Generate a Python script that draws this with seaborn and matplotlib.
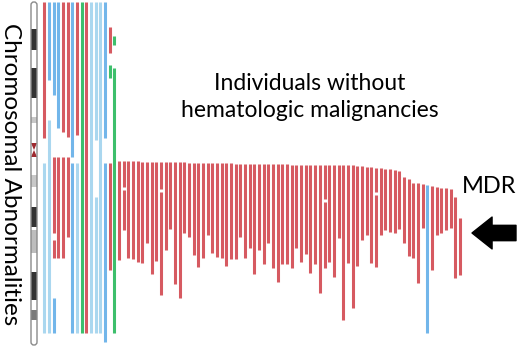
import numpy as np
import pandas as pd
import seaborn as sns
import matplotlib.pyplot as plt
from matplotlib.patches import FancyBboxPatch, Polygon

# left cluster: individuals with several abnormalities (column, start, end, type)
seg_col = [0, 0, 1, 1, 2, 2, 2, 2, 3, 3, 4, 4, 5, 5, 6, 6, 7, 7,
           8, 9, 10, 11, 11, 12, 13, 13, 14, 14, 14, 15, 15]
seg_start = [2, 163, 2, 120, 2, 157, 240, 298, 2, 157, 2, 157, 2, 157, 2, 163, 2, 163,
             2, 2, 2, 2, 197, 2, 2, 163, 27, 65, 163, 36, 68]
seg_end = [138, 333, 80, 333, 95, 233, 258, 333, 128, 258, 132, 258, 137, 237, 157, 333, 135, 333,
           333, 333, 333, 140, 333, 333, 138, 342, 53, 78, 270, 45, 333]
seg_type = ['loss', 'light', 'gain', 'light', 'gain', 'loss', 'loss', 'gain', 'gain', 'loss',
            'loss', 'loss', 'loss', 'loss', 'gain', 'gain', 'loss', 'light',
            'cnloh', 'loss', 'light', 'light', 'light', 'light', 'gain', 'gain',
            'loss', 'cnloh', 'loss', 'cnloh', 'cnloh']

# individuals without hematologic malignancies (columns 16..89)
del_top = [161, 161, 161, 161, 161,
           162, 162, 162, 162, 162, 162, 162, 162, 162, 162,
           163, 163, 163, 163, 163, 163, 163, 163, 163, 163,
           164, 164, 164, 164, 164, 164, 164, 164, 164, 164, 164, 164,
           165, 165, 165, 165, 165, 165, 165, 165, 165, 165, 165, 165, 165, 165,
           166, 166, 167, 167, 168, 168, 169, 169, 170, 171,
           177, 179, 183, 183, 184, 185, 186, 187, 188, 188, 189, 197, 218]
del_bottom = [260, 230, 258, 259, 262, 263, 243, 274, 261, 295, 250, 229, 284, 298, 233,
              237, 255, 267, 258, 235, 253, 257, 258, 266, 259, 259, 237, 258, 248, 274,
              250, 264, 243, 268, 282, 264, 264,
              268, 248, 262, 254, 273, 264, 293, 268, 262, 277, 238, 320, 263, 308, 266,
              240, 235, 263, 267, 235, 230, 232, 233, 229, 243, 256, 258, 283, 228, 333,
              270, 235, 233, 230, 228, 278, 275]
del_type = ['loss'] * 66 + ['gain'] + ['loss'] * 7
first_del_col = 16

# small breaks inside some deletions
gap_col = [17, 25, 60, 71]
gap_pos = [188, 190, 200, 193]

# ideogram bands
band_start = [29, 68, 117, 175, 207, 230, 272, 310]
band_end = [50, 98, 123, 187, 227, 253, 300, 320]
band_color = ['#333333', '#333333', '#c8c8c8', '#c8c8c8', '#333333', '#bdbdbd', '#333333', '#7a7a7a']
centromere = 150

palette = {'loss': '#d65a61', 'gain': '#72b6ea', 'light': '#aad7ef', 'cnloh': '#3dbf6c'}

rows = []
sid = 0
for c, s, e, t in zip(seg_col, seg_start, seg_end, seg_type):
    rows += [(c, s, sid, t), (c, e, sid, t)]
    sid += 1
for i, (s, e, t) in enumerate(zip(del_top, del_bottom, del_type)):
    c = first_del_col + i
    pieces = [(s, e)]
    if c in gap_col:
        g = gap_pos[gap_col.index(c)]
        pieces = [(s, g - 1.5), (g + 1.5, e)]
    for a, b in pieces:
        rows += [(c, a, sid, t), (c, b, sid, t)]
        sid += 1
df = pd.DataFrame(rows, columns=['col', 'pos', 'seg', 'kind'])

px = 4.67
x0 = -44.3 / px
fig = plt.figure(figsize=(5.2, 3.5), dpi=100)
ax = fig.add_axes([0, 0, 1, 1])
sns.lineplot(data=df, x='col', y='pos', units='seg', estimator=None, hue='kind',
             palette=palette, linewidth=2.2, legend=False, sort=False, ax=ax,
             solid_capstyle='butt')

# chromosome ideogram
cx, hw = (34 - 44.3) / px, 3 / px
for s, e, col in zip(band_start, band_end, band_color):
    ax.bar(cx, e - s, bottom=s, width=2 * hw, color=col, linewidth=0)
ax.add_patch(Polygon([(cx - hw, centromere - 7), (cx + hw, centromere - 7), (cx, centromere),
                      (cx + hw, centromere + 7), (cx - hw, centromere + 7), (cx, centromere)],
                     closed=True, color='#9e2a2f', lw=0))
ax.add_patch(FancyBboxPatch((cx - hw, 2), 2 * hw, 343, boxstyle='round,pad=0,rounding_size=0.6',
                            fill=False, ec='#8a8a8a', lw=1, mutation_aspect=5))

ax.set_xlim(x0, x0 + 520 / px)
ax.set_ylim(350, 0)
ax.axis('off')

font = 'Lato'
fig.text(10 / 520, 1 - 174 / 350, 'Chromosomal Abnormalities', rotation=-90, ha='center', va='center',
         fontsize=17.5, family=font)
fig.text(310 / 520, 1 - 97 / 350, 'Individuals without\nhematologic malignancies', ha='center',
         va='center', fontsize=16.5, family=font, linespacing=1.4)
fig.text(489 / 520, 1 - 186 / 350, 'MDR', ha='center', va='center', fontsize=17, family=font)
ax.annotate('', xy=(472, 350 - 233), xytext=(516, 350 - 233), xycoords='figure pixels',
            textcoords='figure pixels',
            arrowprops=dict(arrowstyle='simple,head_length=0.85,head_width=1.35,tail_width=0.65',
                            mutation_scale=17, color='black', shrinkA=0, shrinkB=0))

plt.savefig('out.png', dpi=100)
